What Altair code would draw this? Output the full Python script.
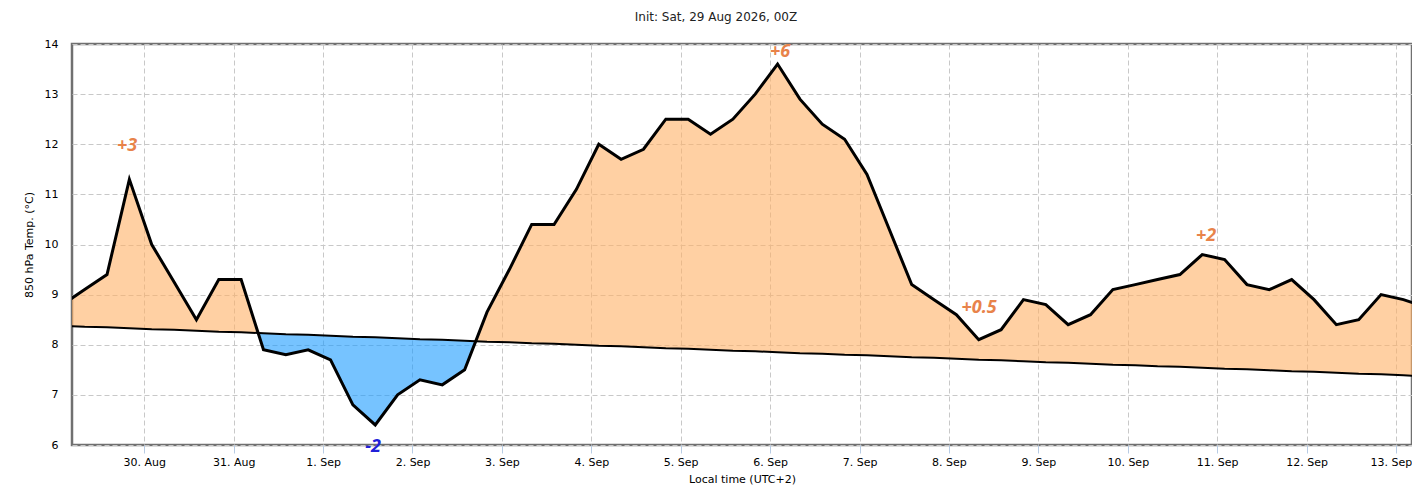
import json
import altair as alt
import pandas as pd

# ---------------- data ----------------
day_labels = ["30. Aug", "31. Aug", "1. Sep", "2. Sep", "3. Sep", "4. Sep", "5. Sep",
              "6. Sep", "7. Sep", "8. Sep", "9. Sep", "10. Sep", "11. Sep", "12. Sep", "13. Sep"]

# forecast times: hours relative to 30 Aug 00:00 local (UTC+2), every 6 h from 29 Aug 02:00
start_hour = -22
step_hours = 6

temp_850 = [8.8, 9.1, 9.4, 11.3, 10.0, 9.25, 8.5, 9.3, 9.3, 7.9,
            7.8, 7.9, 7.7, 6.8, 6.4, 7.0, 7.3, 7.2, 7.5, 8.65,
            9.5, 10.4, 10.4, 11.1, 12.0, 11.7, 11.9, 12.5, 12.5, 12.2,
            12.5, 13.0, 13.6, 12.9, 12.4, 12.1, 11.4, 10.3, 9.2, 8.9,
            8.6, 8.1, 8.3, 8.9, 8.8, 8.4, 8.6, 9.1, 9.2, 9.3,
            9.4, 9.8, 9.7, 9.2, 9.1, 9.3, 8.9, 8.4, 8.5, 9.0,
            8.9, 8.75]

climate_850 = [8.38, 8.36, 8.35, 8.33, 8.31, 8.30, 8.28, 8.26, 8.25, 8.23,
               8.21, 8.20, 8.18, 8.16, 8.15, 8.13, 8.11, 8.10, 8.08, 8.06,
               8.05, 8.03, 8.02, 8.00, 7.98, 7.97, 7.95, 7.93, 7.92, 7.90,
               7.88, 7.87, 7.85, 7.83, 7.82, 7.80, 7.79, 7.77, 7.75, 7.74,
               7.72, 7.70, 7.69, 7.67, 7.65, 7.64, 7.62, 7.60, 7.59, 7.57,
               7.56, 7.54, 7.52, 7.51, 7.49, 7.47, 7.46, 7.44, 7.42, 7.41,
               7.39, 7.37]

ann_text = ["+3", "-2", "+6", "+0.5", "+2"]
ann_hour = [-4.6, 61.4, 170.7, 224.1, 285.0]
ann_value = [11.96, 5.96, 13.85, 8.73, 10.17]
ann_color = ["#E8834A", "#2020D8", "#E8834A", "#E8834A", "#E8834A"]

# ---------------- tables ----------------
hours = [start_hour + step_hours * k for k in range(len(temp_850))]
series = pd.DataFrame({"h": hours, "temp": temp_850, "clim": climate_850})

# fill table: add the crossing points of the two curves so the colours switch cleanly
rows = []
for i in range(len(hours)):
    rows.append((hours[i], temp_850[i], climate_850[i]))
    if i + 1 < len(hours):
        d0 = temp_850[i] - climate_850[i]
        d1 = temp_850[i + 1] - climate_850[i + 1]
        if d0 * d1 < 0:
            f = d0 / (d0 - d1)
            hc = hours[i] + f * (hours[i + 1] - hours[i])
            cc = climate_850[i] + f * (climate_850[i + 1] - climate_850[i])
            rows.append((hc, cc, cc))
fill = pd.DataFrame(rows, columns=["h", "temp", "clim"])
fill["upper"] = fill[["temp", "clim"]].max(axis=1)
fill["lower"] = fill[["temp", "clim"]].min(axis=1)

ann = pd.DataFrame({"h": ann_hour, "v": ann_value, "t": ann_text, "c": ann_color})

# ---------------- encodings ----------------
FONT = "DejaVu Sans"
last_tick = 24 * (len(day_labels) - 1)
xscale = alt.Scale(domain=[-19.4, 340.3], nice=False, zero=False)
yscale = alt.Scale(domain=[6, 14], nice=False, zero=False)
label_expr = json.dumps(day_labels) + "[round(datum.value / 24)]"

xaxis = alt.Axis(values=[24 * i for i in range(len(day_labels))], labelExpr=label_expr,
                 labelOffset={"condition": {"test": f"datum.value >= {last_tick}", "value": -5},
                              "value": 0},
                 title="Local time (UTC+2)", tickColor="#B8CCE4", tickSize=8, labelPadding=3,
                 titlePadding=6, grid=True, gridColor="#C8C8C8", gridDash=[5, 3],
                 labelFontSize=11, titleFontSize=11, labelColor="#000000", titleColor="#000000",
                 titleFontWeight="normal", labelFont=FONT, titleFont=FONT, domain=False)
yaxis = alt.Axis(values=list(range(6, 15)), title="850 hPa Temp. (°C)", ticks=False,
                 labelPadding=14, titlePadding=10, grid=True, gridColor="#C8C8C8",
                 gridDash=[5, 3], labelFontSize=11, titleFontSize=11, labelColor="#000000",
                 titleColor="#000000", titleFontWeight="normal", labelFont=FONT,
                 titleFont=FONT, domain=False)

X = alt.X("h:Q", scale=xscale, axis=xaxis)

warm = alt.Chart(fill).mark_area(color="#FFB066", opacity=0.6, clip=True).encode(
    x=X, y=alt.Y("upper:Q", scale=yscale, axis=yaxis), y2="clim:Q")
cold = alt.Chart(fill).mark_area(color="#1B9BFF", opacity=0.6, clip=True).encode(
    x=alt.X("h:Q"), y=alt.Y("lower:Q"), y2="clim:Q")
clim_line = alt.Chart(series).mark_line(color="#000000", strokeWidth=2, clip=True).encode(
    x=alt.X("h:Q"), y=alt.Y("clim:Q"))
temp_line = alt.Chart(series).mark_line(color="#000000", strokeWidth=3, clip=True,
                                        strokeJoin="miter").encode(
    x=alt.X("h:Q"), y=alt.Y("temp:Q"))
labels = alt.Chart(ann).mark_text(font="Open Sans", fontSize=18, fontWeight="bold",
                                  fontStyle="italic", baseline="middle").encode(
    x=alt.X("h:Q"), y=alt.Y("v:Q"), text="t:N", color=alt.Color("c:N", scale=None))

chart = alt.layer(warm, cold, clim_line, temp_line, labels).properties(
    width=1340, height=401,
    autosize="none",
    padding={"left": 64, "top": 36, "right": 0, "bottom": 40},
    background="#FFFFFF",
    title=alt.TitleParams("Init: Sat, 29 Aug 2026, 00Z", font=FONT, fontSize=12,
                          fontWeight="normal", color="#222222", anchor="middle",
                          frame="group", dx=-26, offset=14),
).configure_view(stroke="#707070", strokeWidth=2.5)

chart.save("out.html", embed_options={"renderer": "svg", "actions": False})
